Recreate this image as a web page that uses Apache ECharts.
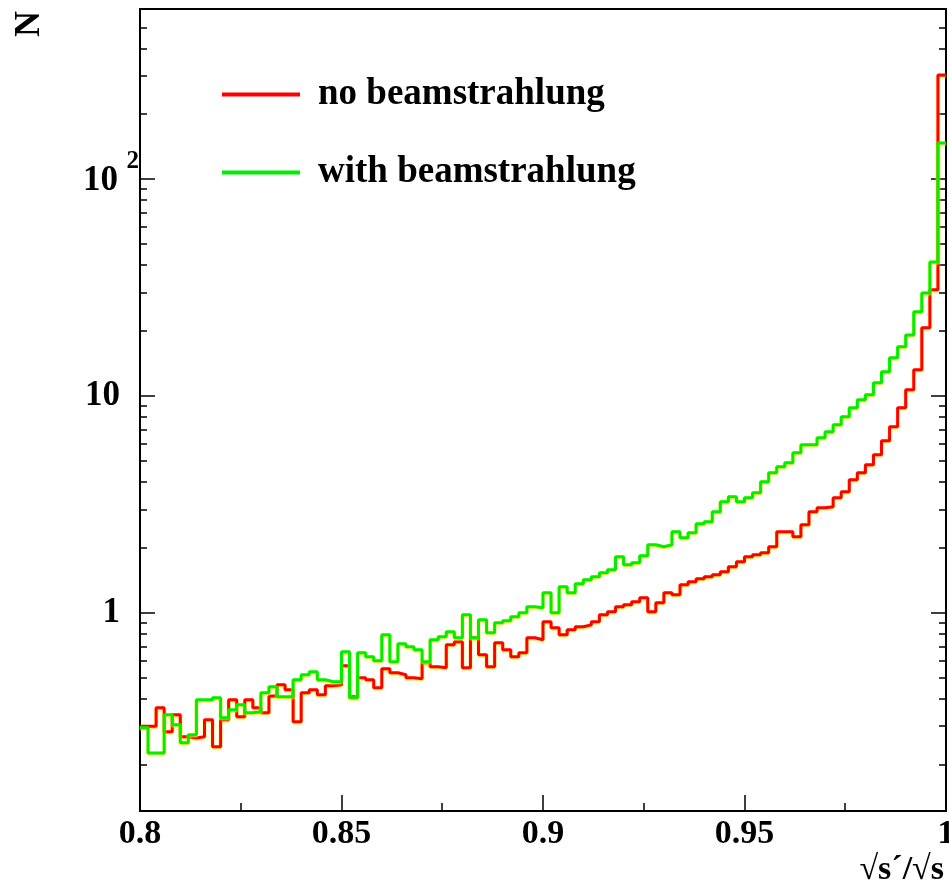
<!DOCTYPE html>
<html>
<head>
<meta charset="utf-8">
<script src="https://cdn.jsdelivr.net/npm/echarts@6/dist/echarts.min.js"></script>
<style>html,body{margin:0;padding:0;background:#fff;overflow:hidden}#c{width:949px;height:891px}</style>
</head>
<body>
<div id="c"></div>
<script>
// ---- data ----
const binStart = 0.8;
const binWidth = 0.002;
const noBeam = [0.30,0.30,0.365,0.283,0.339,0.268,0.265,0.268,0.321,0.241,
0.321,0.397,0.332,0.397,0.365,0.346,0.414,0.466,0.442,0.315,
0.428,0.442,0.419,0.461,0.466,0.570,0.410,0.502,0.491,0.451,
0.552,0.529,0.518,0.502,0.496,0.588,0.564,0.558,0.712,0.735,
0.558,0.767,0.640,0.564,0.727,0.675,0.627,0.654,0.767,0.751,
0.909,0.853,0.792,0.835,0.862,0.880,0.909,0.979,1.011,1.066,
1.089,1.124,1.172,1.011,1.112,1.236,1.210,1.346,1.389,1.434,
1.465,1.497,1.545,1.629,1.718,1.812,1.851,1.891,2.015,2.362,
2.362,2.240,2.545,2.920,3.047,3.080,3.388,3.612,4.102,4.418,
4.809,5.348,6.202,7.197,8.805,10.66,13.18,20.58,30.80,301.6];
const withBeam = [0.295,0.226,0.226,0.339,0.305,0.252,0.274,0.397,0.397,0.406,
0.328,0.357,0.377,0.346,0.350,0.428,0.456,0.410,0.410,0.491,
0.518,0.535,0.491,0.481,0.481,0.661,0.406,0.654,0.627,0.601,
0.792,0.594,0.720,0.697,0.675,0.594,0.751,0.775,0.818,0.767,
0.979,0.767,0.928,0.809,0.899,0.919,0.958,1.000,1.066,1.054,
1.236,1.000,1.318,1.236,1.360,1.419,1.465,1.529,1.578,1.812,
1.664,1.700,1.831,2.058,2.015,2.058,2.362,2.216,2.337,2.571,
2.627,2.920,3.248,3.424,3.248,3.388,3.573,4.015,4.418,4.708,
4.913,5.463,5.946,5.946,6.404,6.825,7.353,8.003,8.805,9.585,
10.11,11.48,12.90,14.97,16.82,19.10,24.39,29.83,41.45,146.5];
const seriesNames = ['no beamstrahlung', 'with beamstrahlung'];
const xTicks = [0.8, 0.85, 0.9, 0.95, 1];
const yMajor = [1, 10, 100];
const yMinor = [0.2,0.3,0.4,0.5,0.6,0.7,0.8,0.9,2,3,4,5,6,7,8,9,20,30,40,50,60,70,80,90,200,300,400,500];
const yRange = [0.122, 607];
const xTitle = '\u221As\u00B4/\u221As';
const yTitle = 'N';

// ---- build ----
function histo(vals){
  const d = vals.map((v,i)=>[binStart + binWidth*i, v]);
  d.push([binStart + binWidth*vals.length, vals[vals.length-1]]);
  return d;
}
const serif = '"Liberation Serif","Times New Roman",serif';
const chart = echarts.init(document.getElementById('c'), null, {renderer:'canvas', width:949, height:891});
function yAx(pos, major, showLabel){
  return {
    type:'log', logBase:10, min:yRange[0], max:yRange[1], position:pos,
    axisLine:{show:major, lineStyle:{color:'#000', width:2}},
    axisTick:{show:true, inside:true, length: major?15:7, customValues: major?yMajor:yMinor, lineStyle:{color:'#000', width:1.5}},
    axisLabel:{show:showLabel, customValues:yMajor, margin:0, fontFamily:serif, fontWeight:'bold', fontSize:35, color:'#000',
      formatter: v => (Math.abs(v-100)<1e-6 ? '{s|2}\n{b|10}' : '{a|' + Math.round(v) + '}'),
      rich:{a:{fontFamily:serif, fontWeight:'bold', fontSize:35, lineHeight:35, color:'#000', padding:[0,20,0,0]},
            b:{fontFamily:serif, fontWeight:'bold', fontSize:35, lineHeight:35, color:'#000', padding:[0,22,0,0]},
            s:{fontFamily:serif, fontWeight:'bold', fontSize:25, lineHeight:4, color:'#000', padding:[0,1,0,0]}}},
    splitLine:{show:false}
  };
}
const lineShadow = {shadowColor:'rgba(255,230,0,0.9)', shadowBlur:2, shadowOffsetY:1};
chart.setOption({
  animation:false,
  backgroundColor:'#fff',
  grid:{left:140, right:3, top:9, bottom:80, show:true, borderColor:'#000', borderWidth:2, backgroundColor:'transparent',
        containLabel:false, outerBoundsMode:'none'},
  legend:{
    data:seriesNames, orient:'vertical', left:217, top:71, itemWidth:78, itemHeight:4, icon:'rect', itemGap:41,
    textStyle:{fontFamily:serif, fontWeight:'bold', fontSize:37, color:'#000', padding:[0,0,0,13]}
  },
  xAxis:{
    type:'value', min:0.8, max:1.0, interval:0.05,
    axisLine:{lineStyle:{color:'#000', width:2}},
    axisTick:{inside:true, length:16, lineStyle:{color:'#000', width:1.5}},
    minorTick:{show:true, splitNumber:2, length:8, lineStyle:{color:'#000', width:1.5}},
    axisLabel:{margin:6, fontFamily:serif, fontWeight:'bold', fontSize:34, color:'#000',
      formatter: v => String(parseFloat(v.toFixed(2)))},
    splitLine:{show:false},
    name:xTitle, nameLocation:'end', nameGap:-2,
    nameTextStyle:{fontFamily:serif, fontWeight:'bold', fontSize:34, color:'#000', align:'right', verticalAlign:'top', padding:[42,0,0,0]}
  },
  yAxis:[yAx('left', true, true), yAx('left', false, false), yAx('right', true, false), yAx('right', false, false)],
  graphic:[{type:'text', left:12, top:11, rotation:Math.PI/2, style:{text:yTitle, font:'bold 36px ' + serif, fill:'#000'}}],
  series:[
    {name:seriesNames[0], type:'line', step:'end', data:histo(noBeam), showSymbol:false, symbol:'none', color:'#ff0000',
     lineStyle:Object.assign({color:'#ff0000', width:3}, lineShadow), z:3},
    {name:seriesNames[1], type:'line', step:'end', data:histo(withBeam), showSymbol:false, symbol:'none', color:'#00ee00',
     lineStyle:Object.assign({color:'#00ee00', width:3}, lineShadow), z:4}
  ]
});
</script>
</body>
</html>
